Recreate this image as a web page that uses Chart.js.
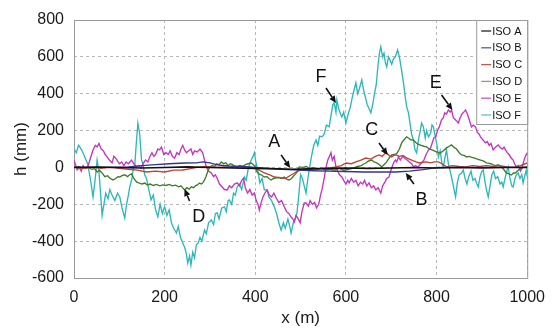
<!DOCTYPE html>
<html><head><meta charset="utf-8">
<script src="https://cdn.jsdelivr.net/npm/chart.js@4/dist/chart.umd.min.js"></script>
<style>html,body{margin:0;padding:0;background:#fff}</style>
</head><body>
<canvas id="c" width="555" height="328"></canvas>
<script>
// ---------- data ----------
const seriesNames = ['ISO A', 'ISO B', 'ISO C', 'ISO D', 'ISO E', 'ISO F'];
const xTicks = [0, 200, 400, 600, 800, 1000];
const yTicks = [-600, -400, -200, 0, 200, 400, 600, 800];

const aX = [0,50,100,150,200,250,300,350,400,450,480,520,560,600,650,700,750,800,850,900,950,1000];
const aH = [0,2,0,-3,0,3,0,-3,-5,-8,-10,-8,-5,-3,-5,-3,0,-3,0,-3,0,0];

const bX = [0,40,80,120,150,180,210,244,270,284,300,316,340,370,400,430,460,497,530,560,600,640,680,710,740,770,804,850,900,950,1000];
const bH = [0,0,0,3,10,15,20,24,25,30,25,14,8,5,0,-5,-10,-14,-18,-20,-22,-25,-25,-25,-20,-12,0,0,0,0,0];

const cX = [0,20,40,60,80,100,120,140,160,180,200,220,240,260,272,290,310,332,350,370,390,405,420,432,442,455,466,479,490,500,515,530,545,560,578,590,600,612,622,633,644,655,665,673,680,686,690,695,701,706,710,718,726,735,745,755,762,770,778,786,795,804,812,822,835,850,864,880,895,910,925,940,955,970,985,1000];
const cH = [0,-5,0,-5,0,-5,-10,-15,-25,-20,-25,-15,-14,-5,0,5,0,3,0,5,0,-10,-30,-40,-52,-55,-60,-41,-25,-14,-10,-15,-5,-5,3,10,24,20,30,40,51,45,60,68,60,75,79,65,57,65,68,60,65,50,40,30,24,28,30,25,30,30,20,3,10,5,3,10,5,10,5,10,3,0,10,24];

const dX = [0,10,20,30,40,45,51,56,62,68,74,80,86,92,97,101,106,112,118,122,127,132,138,143,150,156,162,168,175,182,189,196,203,210,217,224,231,236,240,244,249,254,259,264,268,272,277,281,284,288,291,294,297,300,305,310,315,320,325,330,335,340,345,350,355,360,366,372,378,384,391,396,400,404,408,413,420,426,430,435,440,446,452,458,464,470,475,480,485,489,492,497,505,512,520,528,536,545,556,565,575,585,595,605,615,625,634,640,644,650,657,662,668,674,679,684,690,695,701,706,712,718,723,728,734,738,743,749,754,760,766,772,778,784,790,795,800,805,809,815,822,828,833,838,844,850,855,861,866,872,878,884,890,897,903,910,916,920,925,930,936,942,948,954,960,965,970,974,980,986,992,998,1000];
const dH = [0,5,-5,0,-10,-5,-25,-15,-30,-50,-45,-60,-68,-60,-50,-52,-45,-40,-50,-41,-35,-60,-79,-84,-90,-85,-95,-90,-98,-92,-100,-95,-98,-92,-100,-96,-105,-100,-111,-122,-110,-118,-105,-110,-100,-95,-85,-90,-84,-68,-50,-30,-10,3,10,5,20,15,30,20,25,10,20,15,5,3,10,5,15,20,24,15,5,-25,-35,-40,-52,-50,-60,-68,-60,-57,-55,-60,-52,-65,-68,-60,-45,-35,-25,3,0,5,-5,0,-10,-5,-14,-10,-15,-5,-15,-10,-5,5,10,20,24,35,40,30,25,15,3,15,30,50,68,70,75,100,133,150,166,160,150,149,135,125,120,115,111,100,95,90,85,80,79,90,106,115,122,110,100,80,68,65,57,60,55,50,45,40,35,25,22,20,14,10,14,5,-10,-30,-35,-41,-30,-30,-15,-5,0,3,5];

const eX = [0,4,7,12,16,20,25,30,35,40,42,47,51,55,60,65,69,73,78,84,88,92,95,100,105,110,115,120,127,132,138,143,148,152,158,163,167,172,176,180,185,189,193,198,203,208,212,217,222,227,232,236,240,244,248,253,258,262,266,272,278,284,288,292,297,303,308,312,316,321,327,332,338,343,348,354,360,365,370,374,378,383,388,393,398,402,406,409,413,417,421,426,431,436,441,447,452,458,464,469,474,479,483,486,490,495,499,503,508,512,517,521,526,531,535,540,544,547,552,556,560,563,567,570,574,578,582,586,591,595,600,604,607,612,617,622,627,632,637,641,646,651,656,661,666,671,677,681,686,690,695,700,705,709,712,716,720,725,730,735,740,745,749,754,759,763,767,772,777,782,786,790,794,798,802,806,811,815,818,822,826,830,833,837,841,845,848,852,856,860,864,868,872,877,881,886,890,894,897,902,908,912,916,920,925,930,936,940,945,949,952,956,960,965,969,972,976,980,985,989,992,996,1000];
const eH = [40,10,-14,0,-20,10,-5,0,40,80,95,120,111,130,100,90,70,57,40,24,60,50,40,20,30,10,30,20,40,20,3,10,-5,20,40,30,57,80,60,70,100,95,110,70,80,70,90,60,50,80,70,100,120,95,80,90,100,70,90,84,100,79,40,3,-20,-30,-50,-40,-60,-90,-106,-120,-122,-100,-110,-90,-84,-100,-70,-60,-110,-139,-120,-150,-139,-180,-200,-231,-190,-160,-140,-122,-150,-160,-140,-170,-190,-180,-214,-240,-250,-269,-280,-296,-260,-280,-300,-240,-193,-193,-210,-180,-200,-190,-220,-200,-150,-122,-60,0,40,57,80,40,60,3,-20,-40,-52,-70,-90,-70,-84,-60,-80,-70,-100,-80,-90,-70,-100,-84,-110,-100,-122,-110,-139,-100,-80,-60,-52,-10,24,40,30,57,40,60,50,40,30,20,3,10,0,15,24,40,70,95,100,130,160,166,200,220,258,270,296,290,312,300,312,270,260,250,241,270,290,300,312,290,260,220,230,220,190,180,166,150,133,140,120,130,95,110,122,110,100,110,95,80,70,50,40,20,3,10,-20,0,30,60,80];

const fX = [0,5,10,13,18,24,30,36,42,46,51,55,58,62,66,70,75,79,84,90,96,101,106,112,116,120,123,128,131,134,138,141,145,149,152,156,160,165,170,175,180,185,190,195,200,205,210,215,220,226,230,235,240,245,248,251,255,258,262,266,270,274,278,282,288,292,297,303,308,312,316,320,326,332,336,340,343,348,352,356,360,365,370,376,380,385,391,395,398,402,406,410,415,420,426,430,436,442,447,452,457,462,466,472,476,479,484,488,492,496,500,504,508,512,516,519,524,529,534,538,542,547,552,557,563,567,571,574,578,580,584,588,591,595,600,605,610,614,618,622,626,630,635,639,643,647,651,655,659,663,667,671,674,677,681,684,687,690,694,697,701,705,709,714,718,722,727,731,734,738,742,745,749,752,756,760,764,767,771,775,778,782,787,790,793,797,801,804,808,812,815,819,822,826,830,833,837,842,846,850,855,859,863,867,871,876,880,885,889,892,896,900,903,907,910,914,918,922,926,930,935,940,944,947,951,955,958,962,966,969,973,976,980,984,988,991,995,998,1000];
const fH = [100,80,120,110,90,55,20,-60,-160,-80,40,-20,-120,-260,-200,-140,-170,-120,-150,-180,-140,-160,-220,-275,-200,-150,-106,-60,0,10,150,240,180,40,20,-40,-60,-120,-176,-150,-230,-268,-200,-250,-214,-260,-230,-300,-330,-356,-320,-380,-410,-440,-470,-519,-480,-530,-460,-490,-420,-410,-380,-400,-340,-360,-300,-285,-310,-250,-247,-280,-220,-214,-240,-180,-176,-200,-140,-150,-106,-90,-120,-52,-70,0,40,60,80,20,-20,-84,-60,-122,-122,-160,-180,-214,-250,-300,-340,-300,-330,-280,-320,-356,-300,-280,-247,-150,-40,-60,-100,-139,-60,-14,60,120,149,120,170,166,180,230,220,280,340,350,300,366,320,290,274,300,241,290,330,380,420,459,400,430,475,420,380,340,320,296,340,400,450,560,620,654,600,620,570,546,600,584,560,590,600,638,600,540,459,380,330,296,230,180,149,100,79,150,200,241,220,160,200,166,187,230,220,170,120,57,90,20,3,60,95,20,-20,-52,-100,-160,-80,-40,-30,-14,-60,-90,-50,-20,-70,-60,-90,-106,-50,-20,-14,-80,-120,-160,-100,-40,-20,-60,-50,-90,-80,-106,-60,-20,3,-60,-100,-106,-60,-40,-30,-60,-40,-84,-40,-14,-50];

// callouts: letter position and arrow (data units)
const calloutLabels = ['A', 'B', 'C', 'D', 'E', 'F'];
const calloutTextX = [442, 767, 657, 275, 798, 545];
const calloutTextY = [138, -176, 203, -269, 458, 491];
const arrowFromX = [457, 750, 673, 255, 811, 556];
const arrowFromY = [68, -90, 133, -182, 393, 431];
const arrowToX = [477, 732, 692, 244, 835, 578];
const arrowToY = [-3, -30, 68, -117, 312, 350];

// ---------- styles ----------
const colors = ['#111111', '#34348f', '#b8453a', '#3d7d2c', '#c236c0', '#2fb7ba'];
const legendColors = ['#222222', '#5a5aa0', '#c25a50', '#7da67a', '#c65ac4', '#5cc4c6'];
const FONT = "'Liberation Sans', Arial, sans-serif";

function pts(xs, ys) { return xs.map((x, i) => ({ x: x, y: ys[i] })); }
const allX = [aX, bX, cX, dX, eX, fX];
const allH = [aH, bH, cH, dH, eH, fH];

const datasets = seriesNames.map((n, i) => ({
  label: n,
  data: pts(allX[i], allH[i]),
  borderColor: colors[i],
  backgroundColor: colors[i],
  borderWidth: i === 0 ? 1.6 : 1.35,
  pointRadius: 0,
  tension: 0,
  fill: false
}));

const framePlugin = {
  id: 'frame',
  beforeDatasetsDraw(chart) {
    const { ctx, chartArea: a } = chart;
    ctx.save();
    ctx.strokeStyle = '#9a9a9a';
    ctx.lineWidth = 1;
    ctx.setLineDash([]);
    ctx.strokeRect(a.left + 0.5, a.top + 0.5, a.right - a.left, a.bottom - a.top);
    ctx.restore();
  }
};

const calloutPlugin = {
  id: 'callouts',
  afterDatasetsDraw(chart) {
    const { ctx, scales: { x, y } } = chart;
    ctx.save();
    ctx.fillStyle = '#111';
    ctx.strokeStyle = '#111';
    ctx.font = '18px ' + FONT;
    ctx.textAlign = 'center';
    ctx.textBaseline = 'middle';
    calloutLabels.forEach((t, i) => {
      ctx.fillText(t, x.getPixelForValue(calloutTextX[i]), y.getPixelForValue(calloutTextY[i]));
      const x0 = x.getPixelForValue(arrowFromX[i]), y0 = y.getPixelForValue(arrowFromY[i]);
      const x1 = x.getPixelForValue(arrowToX[i]), y1 = y.getPixelForValue(arrowToY[i]);
      const ang = Math.atan2(y1 - y0, x1 - x0);
      const hl = 7, hw = 3.2;
      const bx = x1 - hl * Math.cos(ang), by = y1 - hl * Math.sin(ang);
      ctx.lineWidth = 1.6;
      ctx.beginPath(); ctx.moveTo(x0, y0); ctx.lineTo(bx, by); ctx.stroke();
      ctx.beginPath();
      ctx.moveTo(x1, y1);
      ctx.lineTo(bx + hw * Math.sin(ang), by - hw * Math.cos(ang));
      ctx.lineTo(bx - hw * Math.sin(ang), by + hw * Math.cos(ang));
      ctx.closePath(); ctx.fill();
    });
    ctx.restore();
  }
};

const legendPlugin = {
  id: 'boxLegend',
  afterDraw(chart) {
    const { ctx, chartArea: a } = chart;
    const w = 51, rowH = 16.8, h = 104;
    const left = a.right - w, top = a.top + 0.5;
    ctx.save();
    ctx.fillStyle = '#fff';
    ctx.fillRect(left, top, w, h);
    ctx.strokeStyle = '#9a9a9a';
    ctx.lineWidth = 1;
    ctx.strokeRect(left + 0.5, top, w, h);
    ctx.font = '11px ' + FONT;
    ctx.textBaseline = 'middle';
    ctx.textAlign = 'left';
    seriesNames.forEach((n, i) => {
      const yy = top + 10.5 + i * rowH;
      ctx.strokeStyle = legendColors[i];
      ctx.lineWidth = 1.3;
      ctx.beginPath(); ctx.moveTo(left + 5, yy); ctx.lineTo(left + 15, yy); ctx.stroke();
      ctx.fillStyle = '#111';
      ctx.fillText(n, left + 16, yy + 0.5);
    });
    ctx.restore();
  }
};

new Chart(document.getElementById('c'), {
  type: 'line',
  data: { datasets: datasets },
  options: {
    responsive: false,
    animation: false,
    devicePixelRatio: 1,
    layout: { padding: { top: 20, right: 25, bottom: 0, left: 0 } },
    plugins: { legend: { display: false }, tooltip: { enabled: false } },
    scales: {
      x: {
        type: 'linear', min: 0, max: 1000,
        afterBuildTicks(s) { s.ticks = xTicks.map(v => ({ value: v })); },
        afterFit(s) { s.height = 50; },
        ticks: { font: { family: FONT, size: 16 }, color: '#1a1a1a', padding: 10, maxRotation: 0, callback: v => String(v) },
        grid: { color: '#b8b8b8', lineWidth: 1, drawTicks: false },
        border: { display: false, dash: [3, 3] },
        title: { display: true, text: 'x (m)', font: { family: FONT, size: 17 }, color: '#1a1a1a', padding: { top: 0, bottom: -1 } }
      },
      y: {
        type: 'linear', min: -600, max: 800,
        afterBuildTicks(s) { s.ticks = yTicks.map(v => ({ value: v })); },
        afterFit(s) { s.width = 74; },
        ticks: { font: { family: FONT, size: 16 }, color: '#1a1a1a', padding: 10, callback: v => String(v) },
        grid: { color: '#b8b8b8', lineWidth: 1, drawTicks: false },
        border: { display: false, dash: [3, 3] },
        title: { display: true, text: 'h (mm)', font: { family: FONT, size: 17 }, color: '#1a1a1a', padding: { top: 11, bottom: 0 } }
      }
    }
  },
  plugins: [framePlugin, calloutPlugin, legendPlugin]
});
</script>
</body></html>
